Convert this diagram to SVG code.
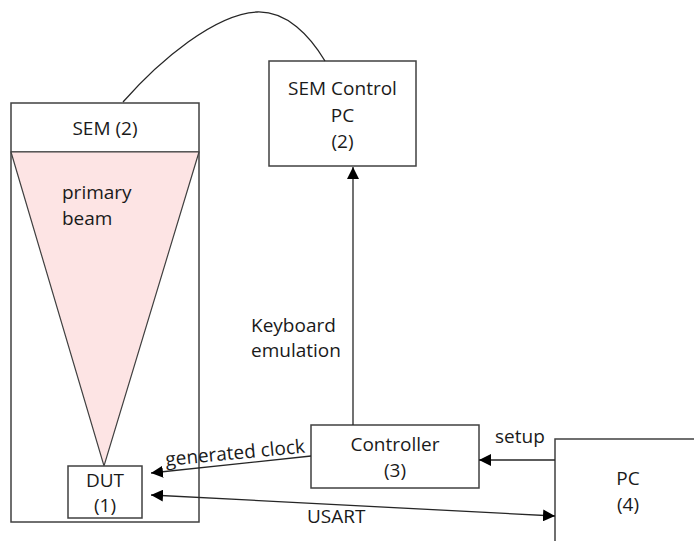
<svg xmlns="http://www.w3.org/2000/svg" width="694" height="541" viewBox="0 0 694 541">
<style>
.box{fill:#ffffff;stroke:#404040;stroke-width:1.5}
.beam{fill:#fde4e4;stroke:#404040;stroke-width:1.2}
.t{font-family:"Open Sans","Liberation Sans",sans-serif;font-size:19px;fill:#1a1a1a}
.c{text-anchor:middle}
.ln{fill:none;stroke:#262626;stroke-width:1.3}
</style>
<defs>
<marker id="ah" viewBox="0 0 12 12" refX="12" refY="6" markerWidth="12" markerHeight="12" markerUnits="userSpaceOnUse" orient="auto-start-reverse">
<path d="M0,0 L12,6 L0,12 Z" fill="#000"/>
</marker>
</defs>
<rect x="0" y="0" width="694" height="541" fill="#ffffff"/>
<g id="sem">
<rect class="box" x="11" y="103" width="188" height="419"/>
<line class="box" x1="11" y1="152" x2="199" y2="152"/>
<path class="beam" d="M11,152 L199,152 L104,466 Z"/>
<text class="t c" x="105" y="135">SEM (2)</text>
<text class="t" x="62" y="199">primary</text>
<text class="t" x="62" y="225">beam</text>
</g>
<g id="dut">
<rect class="box" x="68" y="466" width="74" height="52"/>
<text class="t c" x="105" y="487">DUT</text>
<text class="t c" x="105" y="512">(1)</text>
</g>
<g id="sem-control-pc">
<rect class="box" x="269" y="61" width="147" height="105"/>
<text class="t c" x="342.5" y="95">SEM Control</text>
<text class="t c" x="342.5" y="122">PC</text>
<text class="t c" x="342.5" y="148">(2)</text>
</g>
<g id="controller">
<rect class="box" x="311" y="425" width="168" height="63"/>
<text class="t c" x="395" y="451">Controller</text>
<text class="t c" x="395" y="477">(3)</text>
</g>
<g id="pc">
<rect class="box" x="555" y="439" width="200" height="200"/>
<text class="t c" x="628" y="485">PC</text>
<text class="t c" x="628" y="511">(4)</text>
</g>
<g id="connectors">
<path class="ln" d="M123,102 C160,60 215,14 257,12 C287,11 310,36 325,61"/>
<line class="ln" x1="353" y1="425" x2="353" y2="167" marker-end="url(#ah)"/>
<line class="ln" x1="555" y1="460" x2="479" y2="460" marker-end="url(#ah)"/>
<line class="ln" x1="311" y1="456" x2="151" y2="473" marker-end="url(#ah)"/>
<line class="ln" x1="151" y1="495" x2="555" y2="516" marker-start="url(#ah)" marker-end="url(#ah)"/>
<text class="t" x="251" y="332">Keyboard</text>
<text class="t" x="251" y="357">emulation</text>
<text class="t" x="495" y="443">setup</text>
<text class="t" x="307" y="523">USART</text>
<text class="t" x="166" y="466" transform="rotate(-5.5 166 466)">generated clock</text>
</g>
</svg>
